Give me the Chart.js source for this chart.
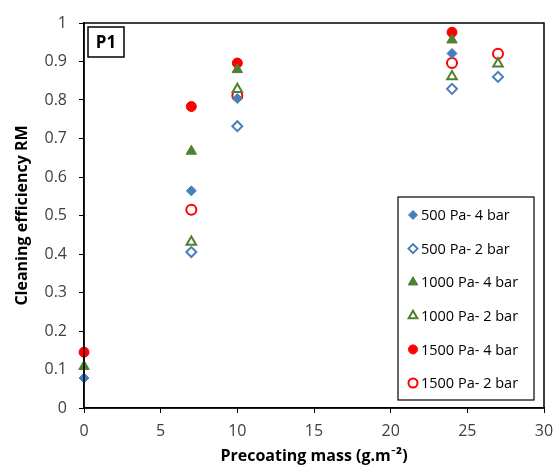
<!DOCTYPE html>
<html>
<head>
<meta charset="utf-8">
<script src="https://cdn.jsdelivr.net/npm/chart.js@4/dist/chart.umd.min.js"></script>
<style>
  body { margin: 0; background: #fff; }
  #wrap { width: 557px; height: 470px; }
</style>
</head>
<body>
<div id="wrap"><canvas id="c" width="557" height="470"></canvas></div>
<script>
// precoating mass (g.m-2) and cleaning efficiency RM
const labels = ["500 Pa- 4 bar", "500 Pa- 2 bar", "1000 Pa- 4 bar", "1000 Pa- 2 bar", "1500 Pa- 4 bar", "1500 Pa- 2 bar"];
const x4bar = [0, 7, 10, 24];
const x2bar = [7, 10, 24, 27];
const pa500_4 = [0.078, 0.564, 0.804, 0.921];
const pa500_2 = [0.405, 0.732, 0.829, 0.86];
const pa1000_4 = [0.108, 0.667, 0.879, 0.956];
const pa1000_2 = [0.431, 0.828, 0.861, 0.894];
const pa1500_4 = [0.145, 0.783, 0.896, 0.976];
const pa1500_2 = [0.515, 0.811, 0.896, 0.92];

const blue = "#4a7ebb";
const green = "#4f7f2f";
const red = "#ff0000";

function pts(xs, ys) {
    let out = [];
    xs.forEach((x, i) => out.push({x: x, y: ys[i]}));
    return out;
}

function ds(label, xs, ys, color, style, filled, r) {
    return {
        label: label,
        data: pts(xs, ys),
        pointStyle: style,
        pointRadius: r,
        pointHoverRadius: r,
        pointBackgroundColor: filled ? color : "#ffffff",
        pointBorderColor: color,
        pointBorderWidth: filled ? 1 : 2,
        showLine: false
    };
}

let font = "'Open Sans', Lato, sans-serif";

// frame, P1 box and legend box
const extras = {
    id: "extras",
    afterDraw(chart) {
        let ctx = chart.ctx;
        let a = chart.chartArea;
        ctx.save();
        ctx.strokeStyle = "#000";
        ctx.lineWidth = 1.5;
        ctx.strokeRect(a.left, a.top, a.right - a.left, a.bottom - a.top);

        // P1 label
        ctx.lineWidth = 1.5;
        ctx.strokeRect(a.left + 4, a.top + 4, 36, 30);
        ctx.fillStyle = "#000";
        ctx.font = "bold 17px " + font;
        ctx.textAlign = "center";
        ctx.textBaseline = "middle";
        ctx.fillText("P1", a.left + 22, a.top + 20);

        // legend
        let lx = 398, ly = 197, lw = 136, lh = 203;
        ctx.lineWidth = 1.2;
        ctx.strokeRect(lx, ly, lw, lh);
        ctx.font = "14.5px " + font;
        ctx.textAlign = "left";
        chart.data.datasets.forEach((d, i) => {
            let y = 215 + i * 33.6;
            ctx.fillStyle = d.pointBackgroundColor;
            ctx.strokeStyle = d.pointBorderColor;
            ctx.lineWidth = d.pointBorderWidth;
            Chart.helpers.drawPoint(ctx, {pointStyle: d.pointStyle, radius: d.pointRadius - 0.5, borderWidth: d.pointBorderWidth}, 413, y);
            ctx.fillStyle = "#000";
            ctx.fillText(d.label, 421, y + 1);
        });
        ctx.restore();
    }
};

new Chart(document.getElementById("c").getContext("2d"), {
    type: "scatter",
    data: {
        datasets: [
            ds(labels[0], x4bar, pa500_4, blue, "rectRot", true, 5),
            ds(labels[1], x2bar, pa500_2, blue, "rectRot", false, 5),
            ds(labels[2], x4bar, pa1000_4, green, "triangle", true, 6),
            ds(labels[3], x2bar, pa1000_2, green, "triangle", false, 5.5),
            ds(labels[4], x4bar, pa1500_4, red, "circle", true, 5),
            ds(labels[5], x2bar, pa1500_2, red, "circle", false, 5)
        ]
    },
    options: {
        responsive: false,
        animation: false,
        clip: false,
        layout: { padding: { top: 23, right: 13, left: 13, bottom: 0 } },
        plugins: { legend: { display: false }, tooltip: { enabled: false } },
        scales: {
            x: {
                type: "linear",
                min: 0, max: 30,
                ticks: { stepSize: 5, color: "#404040", font: { family: font, size: 16 }, padding: 9 },
                grid: { drawOnChartArea: false, drawTicks: true, tickLength: 5, color: "#000", lineWidth: 1 },
                border: { display: true, color: "#000", width: 1.5 },
                title: { display: true, text: "Precoating mass (g.m⁻²)", color: "#000", font: { family: font, size: 16, weight: "bold" }, padding: { top: 0 } },
                afterFit: (s) => { s.height = 62; s.paddingRight = 0; s.paddingLeft = 0; }
            },
            y: {
                min: 0, max: 1,
                ticks: { stepSize: 0.1, color: "#404040", font: { family: font, size: 16 }, padding: 12,
                    callback: (v) => String(Math.round(v * 10) / 10) },
                grid: { drawOnChartArea: false, drawTicks: true, tickLength: 5, color: "#000", lineWidth: 1 },
                border: { display: true, color: "#000", width: 1.5 },
                title: { display: true, text: "Cleaning efficiency RM", color: "#000", font: { family: font, size: 16, weight: "bold" }, padding: { top: 0, bottom: 0 } },
                afterFit: (s) => { s.width = 71; s.paddingTop = 0; s.paddingBottom = 0; }
            }
        }
    },
    plugins: [extras]
});
</script>
</body>
</html>
